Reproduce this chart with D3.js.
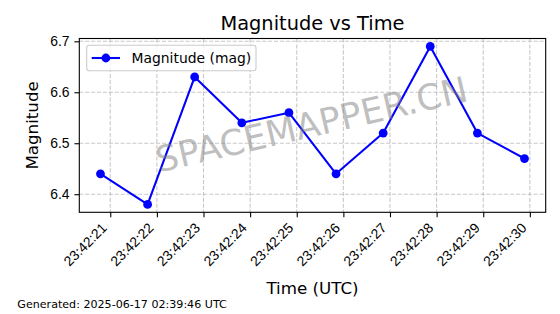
<!DOCTYPE html>
<html>
<head>
<meta charset="utf-8">
<script src="https://cdn.jsdelivr.net/npm/d3@7"></script>
<style>
  body { margin: 0; background: #fff; }
  svg { display: block; font-family: "DejaVu Sans", sans-serif; }
</style>
</head>
<body>
<div id="chart"></div>
<script>
// data
var times = ["23:42:20.790", "23:42:21.801", "23:42:22.811", "23:42:23.822", "23:42:24.832",
             "23:42:25.843", "23:42:26.854", "23:42:27.864", "23:42:28.875", "23:42:29.885"];
var magnitudes = [6.44, 6.38, 6.63, 6.54, 6.56, 6.44, 6.52, 6.69, 6.52, 6.47];
var yTicks = [6.4, 6.5, 6.6, 6.7];
var seriesName = "Magnitude (mag)";

var width = 560,
  height = 314,
  margin = { top: 38.5, right: 14.3, bottom: 101.7, left: 79.3 };

var parseTime = d3.timeParse("%H:%M:%S.%L");
var data = times.map(function(t, i) {
  return { t: parseTime(t), v: magnitudes[i] };
});

var svg = d3.select('#chart')
  .append('svg')
  .attr('width', width)
  .attr('height', height);

var plotW = width - margin.left - margin.right,
  plotH = height - margin.top - margin.bottom;

// matplotlib style 5% padding on both axes
var tExt = d3.extent(data, function(d) { return +d.t; });
var tPad = (tExt[1] - tExt[0]) * 0.05;
var x = d3.scaleTime()
  .domain([new Date(tExt[0] - tPad), new Date(tExt[1] + tPad)])
  .range([margin.left, margin.left + plotW]);

var vExt = d3.extent(magnitudes);
var vPad = (vExt[1] - vExt[0]) * 0.05;
var y = d3.scaleLinear()
  .domain([vExt[0] - vPad, vExt[1] + vPad])
  .range([margin.top + plotH, margin.top]);

var xTicks = x.ticks(d3.timeSecond.every(1));
var fmt = d3.timeFormat("%H:%M:%S");

// grid
var grid = svg.append('g')
  .attr('stroke', '#b0b0b0')
  .attr('stroke-opacity', 0.7)
  .attr('stroke-width', 1.1)
  .attr('stroke-dasharray', '4.1,1.8');

grid.selectAll('line.vx')
  .data(xTicks)
  .enter()
  .append('line')
  .attr('x1', function(d) { return x(d); })
  .attr('x2', function(d) { return x(d); })
  .attr('y1', margin.top)
  .attr('y2', margin.top + plotH);

grid.selectAll('line.hy')
  .data(yTicks)
  .enter()
  .append('line')
  .attr('x1', margin.left)
  .attr('x2', margin.left + plotW)
  .attr('y1', function(d) { return y(d); })
  .attr('y2', function(d) { return y(d); });

// line + markers
var line = d3.line()
  .x(function(d) { return x(d.t); })
  .y(function(d) { return y(d.v); });

svg.append('path')
  .datum(data)
  .attr('d', line)
  .attr('fill', 'none')
  .attr('stroke', '#0000ff')
  .attr('stroke-width', 2.08)
  .attr('stroke-linejoin', 'round');

svg.selectAll('circle.pt')
  .data(data)
  .enter()
  .append('circle')
  .attr('cx', function(d) { return x(d.t); })
  .attr('cy', function(d) { return y(d.v); })
  .attr('r', 4.4)
  .attr('fill', '#0000ff');

// watermark
svg.append('text')
  .attr('transform', 'translate(' + (margin.left + plotW / 2 - 1) + ',' + (margin.top + plotH / 2 - 1) + ') rotate(-13)')
  .attr('text-anchor', 'middle')
  .attr('dominant-baseline', 'central')
  .attr('font-size', '35.5px')
  .attr('fill', '#808080')
  .attr('fill-opacity', 0.5)
  .text('SPACEMAPPER.CN');

// axes
var xAxis = svg.append('g')
  .attr('transform', 'translate(0,' + (margin.top + plotH) + ')')
  .call(d3.axisBottom(x).tickValues(xTicks).tickFormat(fmt).tickSizeOuter(0).tickSize(4.9).tickPadding(4.9));
xAxis.selectAll('text')
  .attr('font-size', '13.9px')
  .attr('fill', '#000')
  .attr('text-anchor', 'end')
  .attr('dy', null)
  .attr('y', null)
  .attr('transform', 'translate(-3,16.5) rotate(-45)');

var yAxis = svg.append('g')
  .attr('transform', 'translate(' + margin.left + ',0)')
  .call(d3.axisLeft(y).tickValues(yTicks).tickFormat(d3.format('.1f')).tickSizeOuter(0).tickSize(4.9).tickPadding(4.9));
yAxis.selectAll('text')
  .attr('font-size', '13.9px')
  .attr('fill', '#000');

svg.selectAll('.domain').remove();
svg.selectAll('.tick line').attr('stroke', '#000').attr('stroke-width', 1.1);

// frame
svg.append('rect')
  .attr('x', margin.left)
  .attr('y', margin.top)
  .attr('width', plotW)
  .attr('height', plotH)
  .attr('fill', 'none')
  .attr('stroke', '#000')
  .attr('stroke-width', 1.1);

// legend
var lg = svg.append('g');
lg.append('rect')
  .attr('x', 86.7)
  .attr('y', 45.3)
  .attr('width', 169.3)
  .attr('height', 25.4)
  .attr('rx', 2.8)
  .attr('fill', '#fff')
  .attr('fill-opacity', 0.8)
  .attr('stroke', '#cccccc')
  .attr('stroke-width', 1.1);
lg.append('line')
  .attr('x1', 91.7).attr('x2', 120)
  .attr('y1', 58).attr('y2', 58)
  .attr('stroke', '#0000ff')
  .attr('stroke-width', 2.08);
lg.append('circle')
  .attr('cx', 105.9).attr('cy', 58)
  .attr('r', 4.4)
  .attr('fill', '#0000ff');
lg.append('text')
  .attr('x', 131.5).attr('y', 62.8)
  .attr('font-size', '13.9px')
  .text(seriesName);

// titles
svg.append('text')
  .attr('x', margin.left + plotW / 2)
  .attr('y', 30)
  .attr('text-anchor', 'middle')
  .attr('font-size', '19.4px')
  .text('Magnitude vs Time');

svg.append('text')
  .attr('x', margin.left + plotW / 2)
  .attr('y', 294)
  .attr('text-anchor', 'middle')
  .attr('font-size', '16.7px')
  .text('Time (UTC)');

svg.append('text')
  .attr('transform', 'translate(38,' + (margin.top + plotH / 2) + ') rotate(-90)')
  .attr('text-anchor', 'middle')
  .attr('font-size', '16.7px')
  .text('Magnitude');

svg.append('text')
  .attr('x', 17.3)
  .attr('y', 308)
  .attr('font-size', '11.1px')
  .text('Generated: 2025-06-17 02:39:46 UTC');
</script>
</body>
</html>
